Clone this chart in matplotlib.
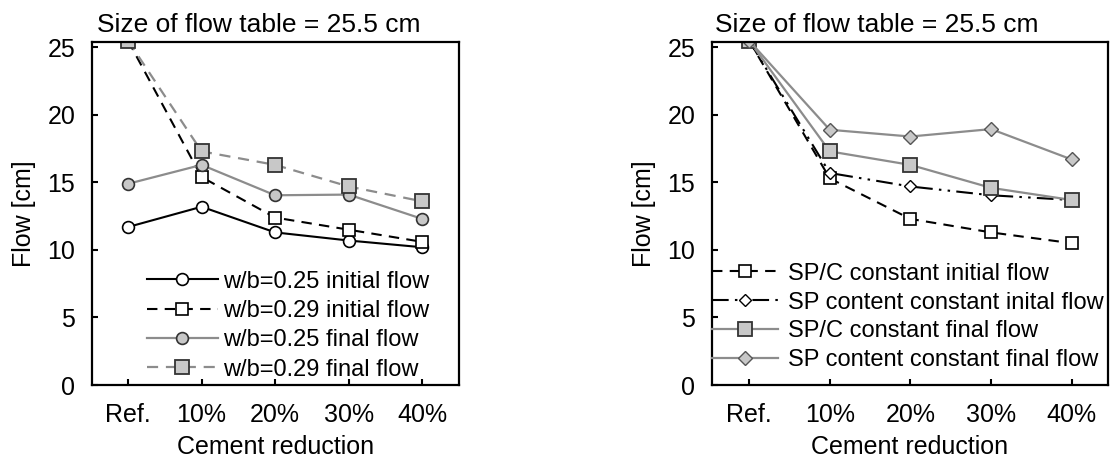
import matplotlib
matplotlib.use("Agg")
import matplotlib.pyplot as plt
import numpy as np

plt.rcParams['font.family'] = ['Liberation Sans', 'DejaVu Sans']
plt.rcParams['font.size'] = 17

categories = ['Ref.', '10%', '20%', '30%', '40%']

# left panel
wb025_initial = [11.7, 13.2, 11.3, 10.7, 10.2]
wb029_initial = [25.5, 15.4, 12.4, 11.5, 10.6]
wb025_final = [14.9, 16.3, 14.05, 14.1, 12.3]
wb029_final = [25.5, 17.3, 16.3, 14.7, 13.6]

# right panel
spc_initial = [25.5, 15.3, 12.3, 11.3, 10.5]
spcontent_initial = [25.5, 15.7, 14.7, 14.05, 13.7]
spc_final = [25.5, 17.3, 16.3, 14.6, 13.7]
spcontent_final = [25.5, 18.9, 18.4, 18.95, 16.7]

title_txt = 'Size of flow table = 25.5 cm'
GRAY = '#8c8c8c'
FILL = '#c8c8c8'
FS = 18

fig = plt.figure(figsize=(11.12, 4.61), dpi=100)
ax1 = fig.add_axes([92/1112, 76/461, 367/1112, 343/461])
ax2 = fig.add_axes([712/1112, 76/461, 396/1112, 343/461])

x = np.arange(len(categories))

ax1.plot(x, wb025_initial, color='black', lw=1.5, marker='o', ms=8.5,
         mfc='white', mec='black', mew=1.2, label='w/b=0.25 initial flow')
ax1.plot(x, wb029_initial, color='black', lw=1.5, ls=(0, (5, 3.5)), marker='s', ms=8.5,
         mfc='white', mec='black', mew=1.2, label='w/b=0.29 initial flow')
ax1.plot(x, wb025_final, color=GRAY, lw=1.6, marker='o', ms=8.5,
         mfc=FILL, mec='#333333', mew=1.2, label='w/b=0.25 final flow')
ax1.plot(x, wb029_final, color=GRAY, lw=1.6, ls=(0, (5, 3.5)), marker='s', ms=9.5,
         mfc=FILL, mec='#333333', mew=1.3, label='w/b=0.29 final flow')

ax2.plot(x, spc_initial, color='black', lw=1.5, ls=(0, (5, 3.5)), marker='s', ms=8.5,
         mfc='white', mec='black', mew=1.2, label='SP/C constant initial flow')
ax2.plot(x, spcontent_initial, color='black', lw=1.5, ls=(0, (8, 3, 1.2, 3, 1.2, 3)),
         marker='D', ms=6.5, mfc='white', mec='black', mew=1.0,
         label='SP content constant inital flow')
ax2.plot(x, spc_final, color=GRAY, lw=1.6, marker='s', ms=9.5,
         mfc=FILL, mec='#333333', mew=1.3, label='SP/C constant final flow')
ax2.plot(x, spcontent_final, color=GRAY, lw=1.6, marker='D', ms=7,
         mfc=FILL, mec='#555555', mew=1.0, label='SP content constant final flow')

for ax in (ax1, ax2):
    ax.set_ylim(0, 25.4)
    ax.set_yticks([0, 5, 10, 15, 20, 25])
    ax.set_xticks(x)
    ax.set_xticklabels(categories)
    ax.tick_params(direction='in', length=4, width=1.5, labelsize=FS,
                   top=False, right=False)
    ax.tick_params(axis='x', pad=13)
    ax.tick_params(axis='y', pad=12)
    for s in ax.spines.values():
        s.set_linewidth(1.6)
    ax.set_ylabel('Flow [cm]', fontsize=FS, labelpad=8)
    ax.set_xlabel('Cement reduction', fontsize=FS, labelpad=6)

ax1.text(0.014, 1.03, title_txt, transform=ax1.transAxes, fontsize=19,
         ha='left', va='baseline')
ax2.text(0.008, 1.03, title_txt, transform=ax2.transAxes, fontsize=19,
         ha='left', va='baseline')

ax1.set_xlim(-0.49, 4.5)
ax2.set_xlim(-0.46, 4.45)

ax1.legend(loc='lower left', bbox_to_anchor=(0.15, 0.013), frameon=False,
           borderpad=0, borderaxespad=0, handlelength=3.0, handletextpad=0.2,
           labelspacing=0.31, fontsize=17)
ax2.legend(loc='lower left', bbox_to_anchor=(0.0, 0.04), frameon=False,
           borderpad=0, borderaxespad=0, handlelength=2.8, handletextpad=0.42,
           labelspacing=0.29, fontsize=17)

fig.savefig('out.png', dpi=100)
